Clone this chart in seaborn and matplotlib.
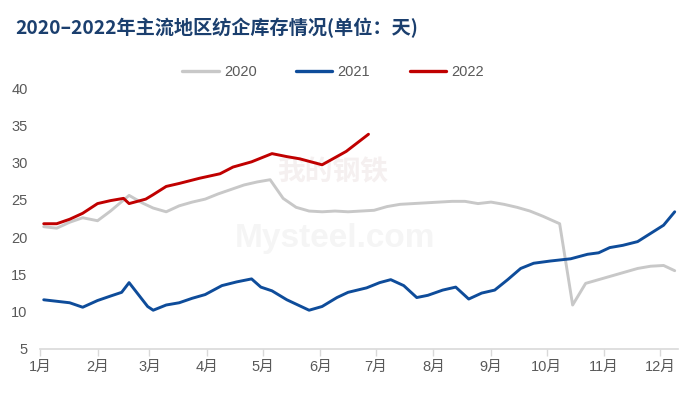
import matplotlib
matplotlib.use("Agg")
import matplotlib.pyplot as plt
import seaborn as sns
import pandas as pd

# ---------------- data ----------------
dates_2020 = ["01-03", "01-10", "01-17", "01-24", "02-01", "02-08", "02-18", "02-25",
              "03-03", "03-10", "03-17", "03-24", "03-31", "04-07", "04-14", "04-21",
              "04-28", "05-05", "05-12", "05-19", "05-26", "06-02", "06-09", "06-16",
              "06-23", "06-30", "07-07", "07-14", "07-21", "07-28", "08-04", "08-11",
              "08-18", "08-25", "09-01", "09-08", "09-15", "09-22", "09-29", "10-08",
              "10-15", "10-22", "10-29", "11-05", "11-12", "11-19", "11-26", "12-03",
              "12-09"]
vals_2020 = [21.4, 21.2, 22.0, 22.6, 22.2, 23.5, 25.6, 24.6,
             23.9, 23.4, 24.2, 24.7, 25.1, 25.8, 26.4, 27.0,
             27.4, 27.7, 25.2, 24.0, 23.5, 23.4, 23.5, 23.4,
             23.5, 23.6, 24.1, 24.4, 24.5, 24.6, 24.7, 24.8,
             24.8, 24.5, 24.7, 24.4, 24.0, 23.5, 22.8, 21.8,
             10.9, 13.8, 14.3, 14.8, 15.3, 15.8, 16.1, 16.2,
             15.5]

dates_2021 = ["01-03", "01-10", "01-17", "01-24", "02-01", "02-08", "02-14", "02-18",
              "02-28", "03-03", "03-10", "03-17", "03-24", "03-31", "04-09", "04-17",
              "04-25", "04-30", "05-06", "05-14", "05-26", "06-02", "06-10", "06-16",
              "06-26", "07-03", "07-09", "07-16", "07-23", "07-29", "08-06", "08-13",
              "08-20", "08-27", "09-03", "09-10", "09-17", "09-24", "10-03", "10-14",
              "10-23", "10-29", "11-04", "11-11", "11-19", "11-26", "12-03", "12-09"]
vals_2021 = [11.6, 11.4, 11.2, 10.6, 11.5, 12.1, 12.6, 13.9,
             10.7, 10.2, 10.9, 11.2, 11.8, 12.3, 13.5, 14.0,
             14.4, 13.3, 12.8, 11.6, 10.2, 10.7, 11.9, 12.6,
             13.2, 13.9, 14.3, 13.5, 11.9, 12.2, 12.9, 13.3,
             11.7, 12.5, 12.9, 14.3, 15.8, 16.5, 16.8, 17.1,
             17.7, 17.9, 18.6, 18.9, 19.4, 20.5, 21.6, 23.4]

dates_2022 = ["01-03", "01-10", "01-17", "01-24", "02-01", "02-08", "02-15", "02-18",
              "02-27", "03-03", "03-10", "03-17", "03-28", "04-08", "04-15", "04-25",
              "05-06", "05-14", "05-21", "06-02", "06-15", "06-27"]
vals_2022 = [21.8, 21.8, 22.4, 23.2, 24.5, 24.9, 25.2, 24.5,
             25.1, 25.7, 26.8, 27.2, 27.9, 28.5, 29.4, 30.1,
             31.2, 30.8, 30.5, 29.7, 31.5, 33.8]

years = ["2020", "2021", "2022"]
colors = ["#C8C8C8", "#0E4C9A", "#C00000"]
month_labels = [f"{m}月" for m in range(1, 13)]
y_ticks = [5, 10, 15, 20, 25, 30, 35, 40]
title = "2020–2022年主流地区纺企库存情况(单位：天)"

# ---------------- frame ----------------
frames = []
for yr, ds, vs in zip(years, [dates_2020, dates_2021, dates_2022],
                      [vals_2020, vals_2021, vals_2022]):
    frames.append(pd.DataFrame({
        "date": pd.to_datetime(["2021-" + d for d in ds]),
        "value": vs,
        "year": yr,
    }))
df = pd.concat(frames, ignore_index=True)

# ---------------- style ----------------
sns.set_theme(style="white")
plt.rcParams["font.family"] = ["Liberation Sans", "Noto Sans CJK SC", "DejaVu Sans"]

fig = plt.figure(figsize=(7.0, 3.96), dpi=100)
ax = fig.add_axes([40 / 700, 47 / 396, 637.5 / 700, 261 / 396])

# faint watermark behind the lines
ax.text(333 / 700, 1 - 172 / 396, "我的钢铁", fontsize=20, color="#F5F0F0",
        ha="center", va="center", family=["Noto Sans CJK SC"], fontweight="bold",
        transform=fig.transFigure, zorder=0)
ax.text(335 / 700, 1 - 238 / 396, "Mysteel.com", fontsize=24, color="#F5F5F5",
        ha="center", va="center", fontweight="bold",
        transform=fig.transFigure, zorder=0)

sns.lineplot(data=df, x="date", y="value", hue="year", palette=colors,
             hue_order=years, linewidth=2.1, ax=ax, legend=True, sort=True,
             zorder=3)

ax.set_ylim(5, 40)
ax.set_yticks(y_ticks)
ax.set_yticklabels([str(v) for v in y_ticks])
ax.set_xlim(pd.Timestamp("2021-01-01"), pd.Timestamp("2021-12-10 12:00"))
month_starts = pd.date_range("2021-01-01", periods=12, freq="MS")
ax.set_xticks(month_starts)
ax.set_xticklabels(month_labels, family=["Liberation Sans", "Noto Sans CJK SC"])
ax.set_xlabel("")
ax.set_ylabel("")
ax.patch.set_alpha(0)

for s in ["top", "right", "left"]:
    ax.spines[s].set_visible(False)
ax.spines["bottom"].set_color("#D9D9D9")
ax.spines["bottom"].set_linewidth(1.2)
ax.tick_params(axis="x", which="major", bottom=True, length=5, width=1,
               color="#D9D9D9", labelsize=10.5, labelcolor="#595959", pad=3)
ax.tick_params(axis="y", left=False, length=0, labelsize=10.5,
               labelcolor="#595959", pad=9)

leg = ax.legend(loc="center", bbox_to_anchor=((333 - 40) / 637.5, (396 - 72 - 47) / 261),
                ncol=3, frameon=False, fontsize=10.5, handlelength=2.5,
                columnspacing=2.7, handletextpad=0.35)
for t in leg.get_texts():
    t.set_color("#595959")
for h in leg.get_lines():
    h.set_linewidth(2.4)

fig.text(15 / 700, 1 - 28 / 396, title, fontsize=13.8, fontweight="bold",
         color="#1B3F6E", ha="left", va="center",
         family=["Noto Sans CJK SC", "DejaVu Sans"])

fig.savefig("out.png", dpi=100)
